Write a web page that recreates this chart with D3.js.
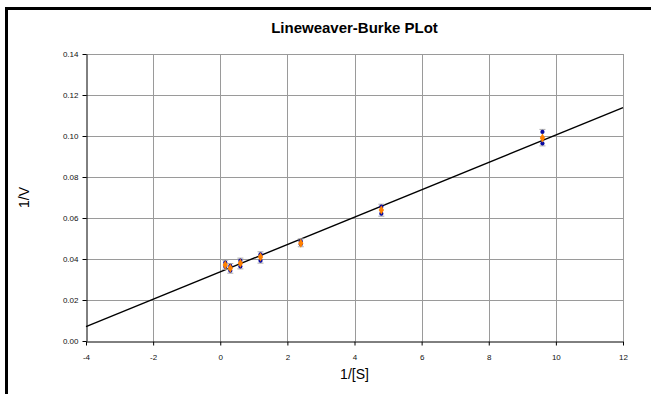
<!DOCTYPE html>
<html>
<head>
<meta charset="utf-8">
<script src="https://cdn.jsdelivr.net/npm/d3@7"></script>
<style>
  html, body { margin: 0; padding: 0; background: #fff; }
  svg { display: block; font-family: "Liberation Sans", Arial, sans-serif; }
</style>
</head>
<body>
<svg id="chart" width="651" height="394"></svg>
<script>
// Substrate reciprocal 1/[S]
const invS = [0.15, 0.3, 0.6, 1.2, 2.4, 4.8, 9.6];
// Replicate measurements of 1/V
const repHigh = [0.0382, 0.0366, 0.0392, 0.0423, 0.0486, 0.0655, 0.1020];
const repLow  = [0.0362, 0.0343, 0.0364, 0.0392, 0.0472, 0.0621, 0.0964];
// Mean 1/V
const meanV   = [0.0371, 0.0355, 0.0379, 0.0410, 0.0477, 0.0639, 0.0990];
// Linear fit endpoints
const fitX = [-4, 12];
const fitY = [0.0070, 0.1138];
// Axis ticks
const xTicks = [-4, -2, 0, 2, 4, 6, 8, 10, 12];
const yTicks = [0, 0.02, 0.04, 0.06, 0.08, 0.10, 0.12, 0.14];

const svg = d3.select("#chart");
const L = 86, R = 623, T = 54, B = 341;

const x = d3.scaleLinear().domain([-4, 12]).range([L, R]);
const y = d3.scaleLinear().domain([0, 0.14]).range([B, T]);

// frame edges
svg.append("rect").attr("x", 5).attr("y", 7).attr("width", 3).attr("height", 394 - 7).attr("fill", "#000");
svg.append("rect").attr("x", 5).attr("y", 7).attr("width", 651 - 5).attr("height", 3).attr("fill", "#000");

// title
svg.append("text").attr("x", (L + R) / 2).attr("y", 33)
  .attr("text-anchor", "middle").attr("font-size", 15).attr("font-weight", "bold")
  .text("Lineweaver-Burke PLot");

// gridlines
const grid = svg.append("g").attr("stroke", "#9a9a9a").attr("stroke-width", 1);
grid.selectAll("line.v").data(xTicks.slice(1)).join("line")
  .attr("x1", d => Math.round(x(d)) + 0.5).attr("x2", d => Math.round(x(d)) + 0.5)
  .attr("y1", T).attr("y2", B);
grid.selectAll("line.h").data(yTicks.slice(1)).join("line")
  .attr("y1", d => Math.round(y(d)) + 0.5).attr("y2", d => Math.round(y(d)) + 0.5)
  .attr("x1", L).attr("x2", R);

// axes
const hyphen = f => d => f(d).replace("\u2212", "-");
const xAxis = svg.append("g").attr("transform", `translate(0,${B + 0.5})`)
  .call(d3.axisBottom(x).tickValues(xTicks).tickSize(4).tickSizeOuter(0).tickFormat(hyphen(d3.format("d"))));
const yAxis = svg.append("g").attr("transform", `translate(${L + 0.5},0)`)
  .call(d3.axisLeft(y).tickValues(yTicks).tickSize(4).tickSizeOuter(0).tickFormat(d3.format(".2f")));
[xAxis, yAxis].forEach(g => {
  g.select(".domain").attr("stroke", "#000");
  g.selectAll(".tick line").attr("stroke", "#000");
  g.selectAll(".tick text").attr("font-size", 8).attr("fill", "#111")
    .attr("font-family", "Liberation Sans, Arial, sans-serif");
});
xAxis.selectAll(".tick text").attr("dy", "1.4em");
yAxis.selectAll(".tick text").attr("dx", "-1px");

// axis titles
svg.append("text").attr("x", (L + R) / 2).attr("y", 379)
  .attr("text-anchor", "middle").attr("font-size", 14).text("1/[S]");
svg.append("text").attr("transform", `translate(29,${(T + B) / 2}) rotate(-90)`)
  .attr("text-anchor", "middle").attr("font-size", 14).text("1/V");

// fitted line
svg.append("line")
  .attr("x1", x(fitX[0])).attr("y1", y(fitY[0]))
  .attr("x2", x(fitX[1])).attr("y2", y(fitY[1]))
  .attr("stroke", "#000").attr("stroke-width", 1.4);

// error bars between replicates
const pts = invS.map((s, i) => ({ s, hi: repHigh[i], lo: repLow[i], m: meanV[i] }));
const eb = svg.append("g").attr("stroke", "#aaa").attr("stroke-width", 1);
eb.selectAll("line.bar").data(pts).join("line")
  .attr("x1", d => x(d.s)).attr("x2", d => x(d.s))
  .attr("y1", d => y(d.hi) - 2.5).attr("y2", d => y(d.lo) + 2.5);
eb.selectAll("line.capT").data(pts).join("line")
  .attr("x1", d => x(d.s) - 3).attr("x2", d => x(d.s) + 3)
  .attr("y1", d => y(d.hi) - 2.5).attr("y2", d => y(d.hi) - 2.5);
eb.selectAll("line.capB").data(pts).join("line")
  .attr("x1", d => x(d.s) - 3).attr("x2", d => x(d.s) + 3)
  .attr("y1", d => y(d.lo) + 2.5).attr("y2", d => y(d.lo) + 2.5);

// replicate markers
const reps = pts.flatMap(d => [{ s: d.s, v: d.hi }, { s: d.s, v: d.lo }]);
svg.append("g").selectAll("path").data(reps).join("path")
  .attr("d", d3.symbol(d3.symbolCircle, 14))
  .attr("transform", d => `translate(${x(d.s)},${y(d.v)})`)
  .attr("fill", "#0a0aa0");

// mean markers
svg.append("g").selectAll("path").data(pts).join("path")
  .attr("d", d3.symbol(d3.symbolDiamond, 24))
  .attr("transform", d => `translate(${x(d.s)},${y(d.m)})`)
  .attr("fill", "#ff8000");
</script>
</body>
</html>
